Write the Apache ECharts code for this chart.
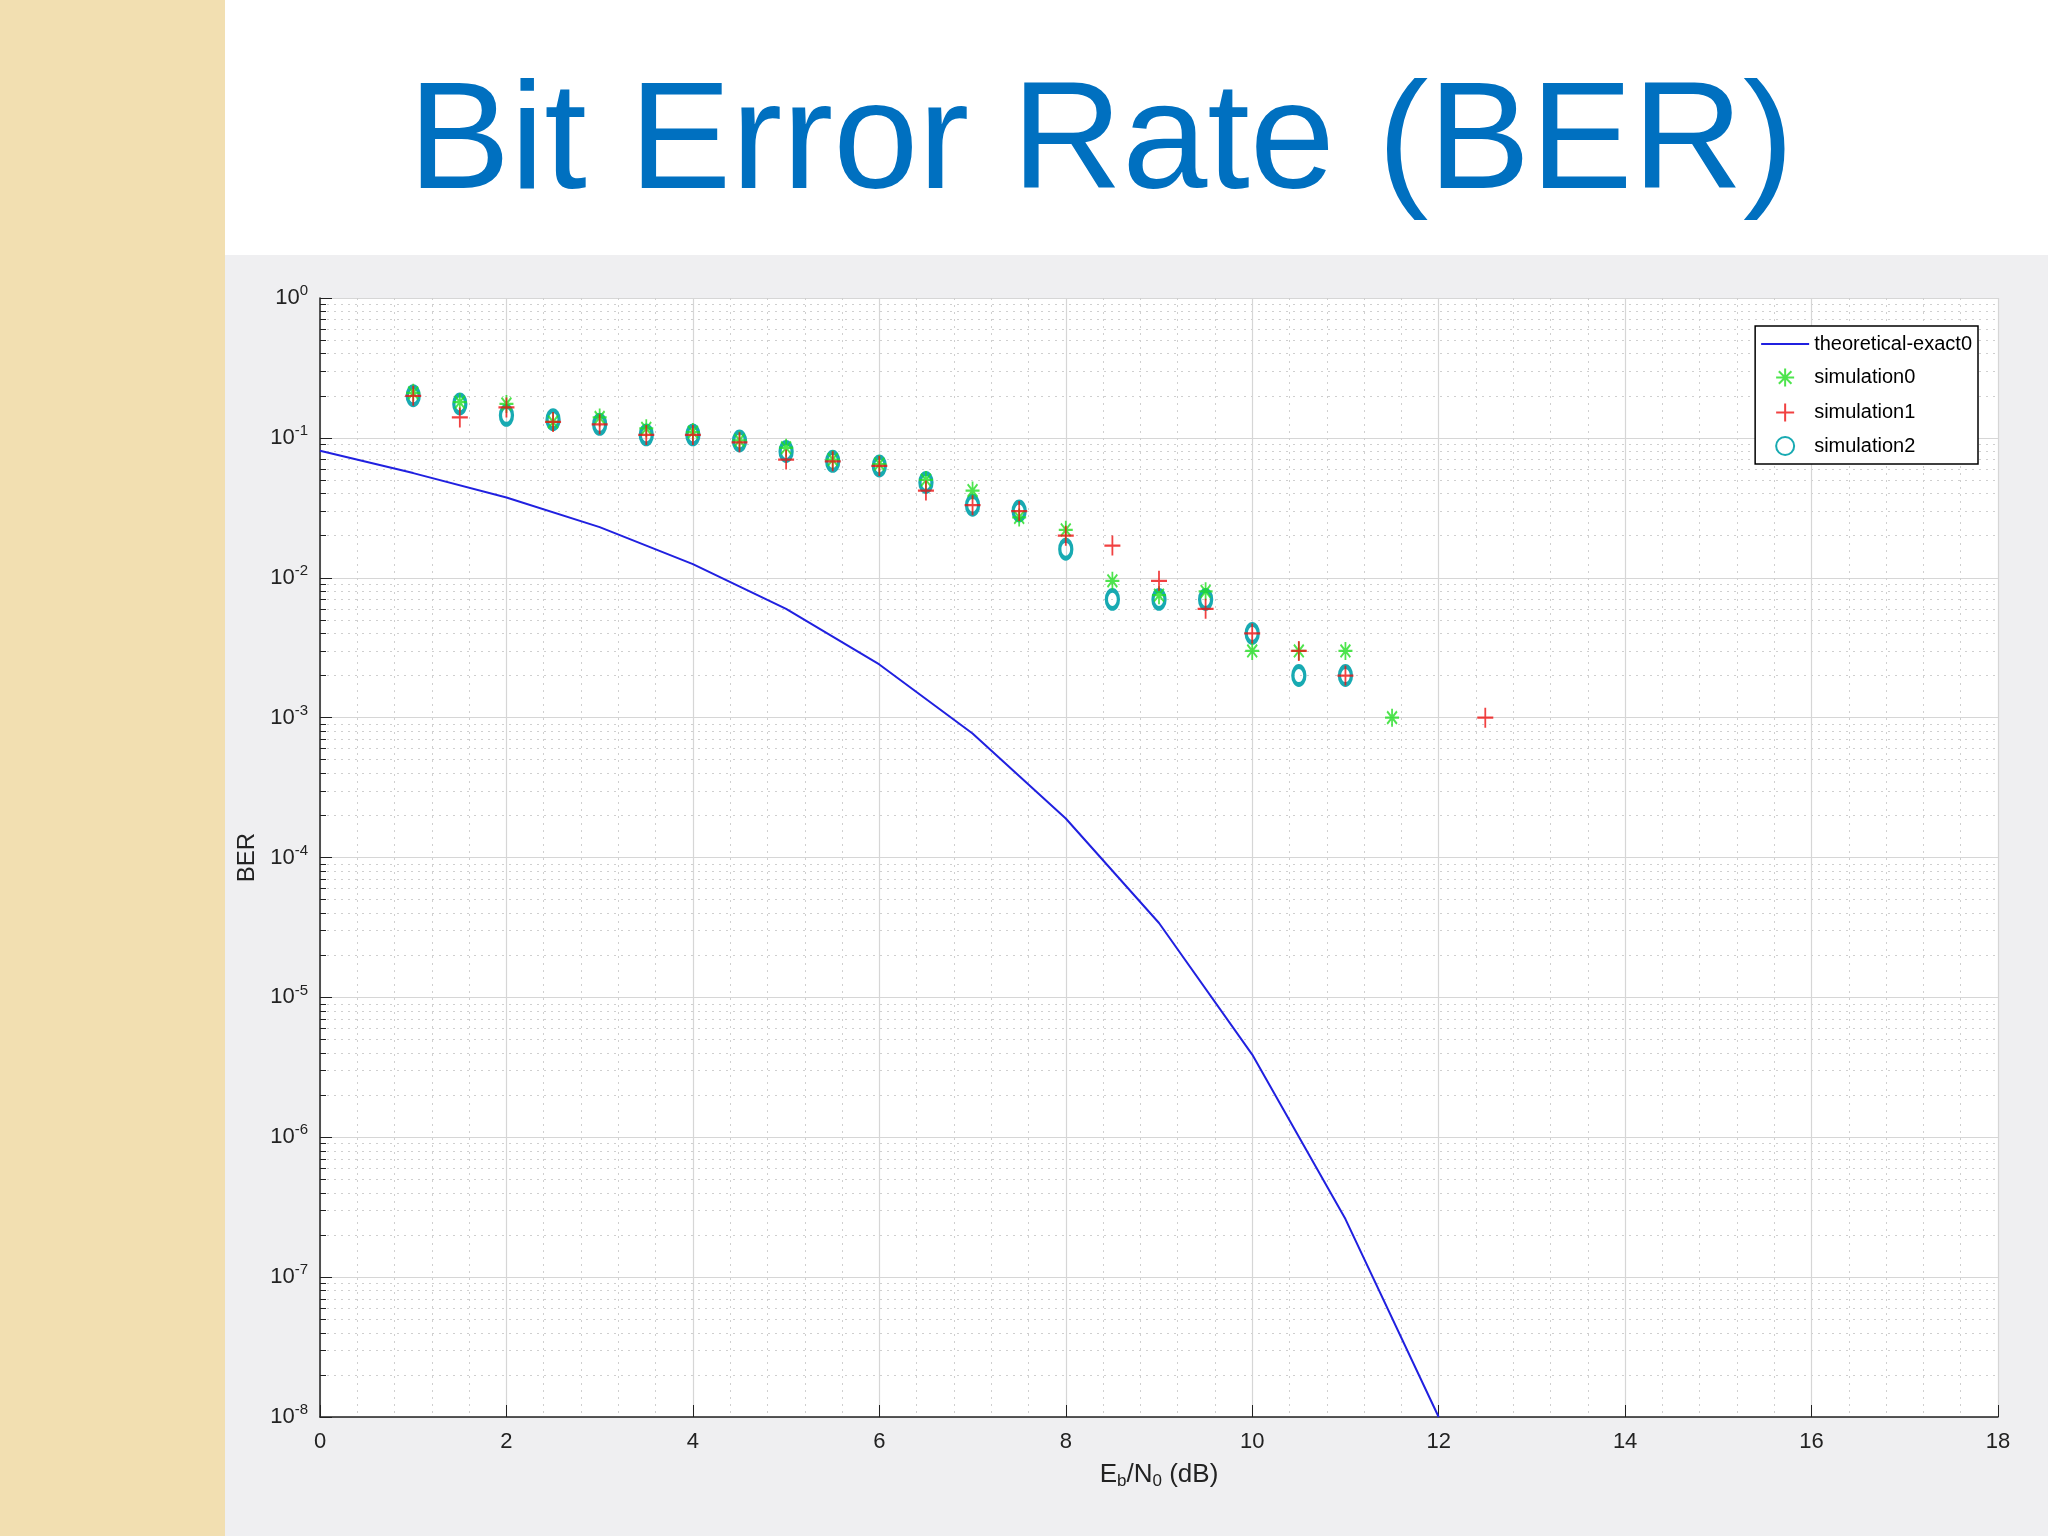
<!DOCTYPE html>
<html><head><meta charset="utf-8">
<script src="https://cdn.jsdelivr.net/npm/echarts@6/dist/echarts.min.js"></script>
<style>html,body{margin:0;padding:0;background:#fff}#c{width:2048px;height:1536px}</style>
</head><body><div id="c"></div>
<script>
const theoryX = [0,1,2,3,4,5,6,7,8,9,10,11,12];
const theoryY = [0.081,0.056,0.0375,0.023,0.0125,0.006,0.0024,0.00077,0.00019,0.000034,0.0000039,0.00000026,0.00000001];
const simX = [1,1.5,2,2.5,3,3.5,4,4.5,5,5.5,6,6.5,7,7.5,8,8.5,9,9.5,10,10.5,11,11.5,12,12.5];
const sim0 = [0.21,0.18,0.175,0.13,0.14,0.117,0.11,0.096,0.085,0.07,0.065,0.05,0.042,0.027,0.022,0.0095,0.0075,0.008,0.003,0.003,0.003,0.001,null,null];
const sim1 = [0.2,0.14,0.165,0.13,0.125,0.105,0.105,0.093,0.07,0.068,0.063,0.042,0.033,0.03,0.02,0.017,0.0095,0.006,0.004,0.003,0.002,null,null,0.001];
const sim2 = [0.2,0.175,0.145,0.135,0.125,0.105,0.105,0.095,0.08,0.068,0.063,0.048,0.033,0.03,0.016,0.007,0.007,0.007,0.004,0.002,0.002,null,null,null];

const pair = (xs, ys) => xs.map((x,i)=>[x,ys[i]]).filter(p=>p[1]!=null);
const star = 'path://M0,-10L0,10M-10,0L10,0M-7,-7L7,7M-7,7L7,-7';
const plus = 'path://M0,-10L0,10M-10,0L10,0';
const F = 'Liberation Sans, Arial, sans-serif';
const chart = echarts.init(document.getElementById('c'));
chart.setOption({
  animation:false,
  backgroundColor:'#ffffff',
  graphic:[
    {type:'rect',shape:{x:222,y:255,width:1826,height:1281},style:{fill:'#efeff1'},z:-10},
    {type:'rect',shape:{x:0,y:0,width:225,height:1536},style:{fill:'#f2dfb1'},z:-9},
    {type:'rect',shape:{x:320,y:298,width:1678,height:1119},style:{fill:'#ffffff'},z:-8},
    {type:'text',x:1101,y:146,style:{text:'Bit Error Rate (BER)',fill:'#0070c0',font:'153px '+F,textAlign:'center',textVerticalAlign:'middle'}}
  ],
  grid:{left:320,right:50,top:298,bottom:119},
  legend:{
    orient:'vertical',right:70,top:326,width:200,
    backgroundColor:'#fff',borderColor:'#000',borderWidth:1.5,padding:[8,6,8,6],itemGap:12,
    itemWidth:48,itemHeight:18,
    textStyle:{fontFamily:F,fontSize:20,color:'#000'},
    data:[
      {name:'theoretical-exact0',icon:'path://M0,0L48,0L48,2L0,2Z'},
      {name:'simulation0'},{name:'simulation1'},{name:'simulation2'}
    ]
  },
  xAxis:{
    type:'value',min:0,max:18,interval:2,
    name:'{a|E}{s|b}{a|/N}{s|0}{a| (dB)}',nameLocation:'middle',nameGap:42,
    nameTextStyle:{rich:{a:{fontFamily:F,fontSize:26,color:'#222'},s:{fontFamily:F,fontSize:17,color:'#222',padding:[14,0,0,0]}}},
    axisLine:{show:true,lineStyle:{color:'#222',width:1.5}},
    axisTick:{show:true,inside:true,length:12,lineStyle:{color:'#222'}},
    axisLabel:{fontFamily:F,fontSize:22,color:'#222',margin:14},
    splitLine:{show:true,lineStyle:{color:'#d6d6d6',width:1.2}},
    minorTick:{show:false,splitNumber:5},
    minorSplitLine:{show:true,lineStyle:{color:'#cfcfcf',type:[2,5],width:1}}
  },
  yAxis:{
    type:'log',logBase:10,min:1e-8,max:1,
    name:'BER',nameLocation:'middle',nameGap:58,
    nameTextStyle:{fontFamily:F,fontSize:24,color:'#222'},
    axisLine:{show:true,lineStyle:{color:'#222',width:1.5}},
    axisTick:{show:true,inside:true,length:12,lineStyle:{color:'#222'}},
    axisLabel:{margin:12,
      formatter:v=>{const e=Math.round(Math.log10(v));return '{b|10}{e|'+e+'}';},
      rich:{b:{fontFamily:F,fontSize:22,color:'#222'},e:{fontFamily:F,fontSize:15,color:'#222',padding:[0,0,14,0]}}},
    splitLine:{show:true,lineStyle:{color:'#d6d6d6',width:1.2}},
    minorTick:{show:true,splitNumber:9,length:6,lineStyle:{color:'#222'}},
    minorSplitLine:{show:true,lineStyle:{color:'#cfcfcf',type:[2,5],width:1}}
  },
  series:[
    {name:'theoretical-exact0',type:'line',data:pair(theoryX,theoryY),showSymbol:false,symbol:'none',
     lineStyle:{color:'#2020e0',width:2},itemStyle:{color:'#2020e0'},z:3},
    {name:'simulation2',type:'scatter',data:pair(simX,sim2),symbol:'circle',symbolSize:[12,18],
     itemStyle:{color:'rgba(255,255,255,0)',borderColor:'#18aab2',borderWidth:4,opacity:1},z:4},
    {name:'simulation0',type:'scatter',data:pair(simX,sim0),symbol:star,symbolSize:[14,18],
     itemStyle:{color:'none',borderColor:'#22dd22',borderWidth:2},z:5},
    {name:'simulation1',type:'scatter',data:pair(simX,sim1),symbol:plus,symbolSize:[16,20],
     itemStyle:{color:'none',borderColor:'#ee1111',borderWidth:2},z:6}
  ]
});
</script></body></html>
